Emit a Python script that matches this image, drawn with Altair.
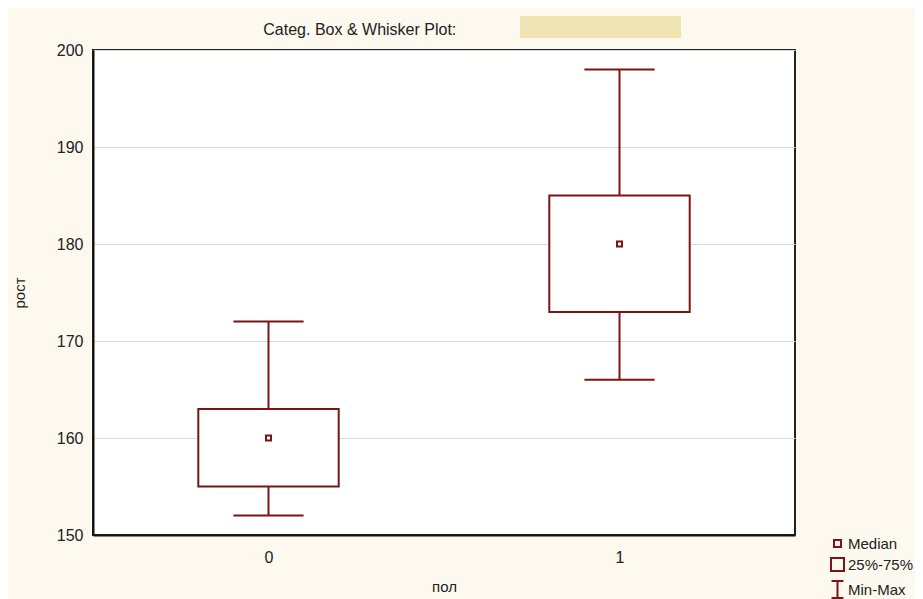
import altair as alt
import pandas as pd

# ---- data ----
categories = [0, 1]
mins = [152, 166]
q1s = [155, 173]
medians = [160, 180]
q3s = [163, 185]
maxs = [172, 198]

legend_items = ["Median", "25%-75%", "Min-Max"]
y_ticks = [150, 160, 170, 180, 190, 200]
x_ticks = [0, 1]

DARK = "#7b1414"
BG = "#fdf9ef"
BOX_HALF = 0.2
CAP_HALF = 0.1
FONT = "Liberation Sans"

df = pd.DataFrame({
    "cat": categories, "min": mins, "q1": q1s, "median": medians,
    "q3": q3s, "max": maxs,
})
df["xl"] = df["cat"] - BOX_HALF
df["xr"] = df["cat"] + BOX_HALF
df["cl"] = df["cat"] - CAP_HALF
df["cr"] = df["cat"] + CAP_HALF

xscale = alt.Scale(domain=[-0.5, 1.5], nice=False, zero=False)
yscale = alt.Scale(domain=[150, 200], nice=False, zero=False)

xaxis = alt.Axis(values=x_ticks, format="d", title="пол", grid=False, ticks=False,
                 labelPadding=14, titlePadding=14)
yaxis = alt.Axis(values=y_ticks, title="рост", grid=True, ticks=False,
                 labelPadding=10, titlePadding=29)

base = alt.Chart(df)

upper = base.mark_rule(color=DARK, strokeWidth=2).encode(
    x=alt.X("cat:Q", scale=xscale, axis=xaxis),
    y=alt.Y("q3:Q", scale=yscale, axis=yaxis),
    y2="max:Q",
)
lower = base.mark_rule(color=DARK, strokeWidth=2).encode(
    x=alt.X("cat:Q", scale=xscale), y=alt.Y("min:Q", scale=yscale), y2="q1:Q",
)
cap_top = base.mark_rule(color=DARK, strokeWidth=2).encode(
    x=alt.X("cl:Q", scale=xscale), x2="cr:Q", y=alt.Y("max:Q", scale=yscale),
)
cap_bot = base.mark_rule(color=DARK, strokeWidth=2).encode(
    x=alt.X("cl:Q", scale=xscale), x2="cr:Q", y=alt.Y("min:Q", scale=yscale),
)
boxes = base.mark_rect(fill="white", stroke=DARK, strokeWidth=2).encode(
    x=alt.X("xl:Q", scale=xscale), x2="xr:Q",
    y=alt.Y("q1:Q", scale=yscale), y2="q3:Q",
)
med = base.mark_point(shape="square", size=25, filled=False, fill="white",
                      color=DARK, strokeWidth=2, opacity=1).encode(
    x=alt.X("cat:Q", scale=xscale), y=alt.Y("median:Q", scale=yscale),
)

# title highlight box (decoration)
title_box = alt.Chart(pd.DataFrame({"d": [0]})).mark_rect(color="#efe3b1").encode(
    x=alt.value(427), x2=alt.value(588), y=alt.value(-34), y2=alt.value(-12),
)

I_PATH = "M-0.7,-1H0.7M0,-1V1M-0.7,1H0.7"
legend_cfg = dict(title=None, orient="none", legendX=735, legendY=486,
                  padding=0, rowPadding=2, labelFontSize=15,
                  labelFont=FONT, labelColor="#222",
                  symbolStrokeWidth=2, symbolStrokeColor=DARK,
                  symbolFillColor="transparent", labelOffset=1)
leg_df = pd.DataFrame({"item": legend_items})
leg = alt.Chart(leg_df).mark_point(clip=True, color=DARK, strokeWidth=2, opacity=1,
                                   filled=False).encode(
    x=alt.value(-500), y=alt.value(-500),
    shape=alt.Shape("item:N", sort=legend_items,
                    scale=alt.Scale(domain=legend_items, range=["square", "square", I_PATH]),
                    legend=alt.Legend(**legend_cfg)),
    size=alt.Size("item:N", sort=legend_items,
                  scale=alt.Scale(domain=legend_items, range=[49, 289, 361]),
                  legend=alt.Legend(**legend_cfg)),
)

chart = alt.layer(title_box, upper, lower, cap_top, cap_bot, boxes, med, leg).properties(
    width=702, height=485,
    title=alt.TitleParams("Categ. Box & Whisker Plot:", anchor="start", dx=251,
                          offset=-22, fontSize=16, font=FONT,
                          fontWeight="normal", color="#222"),
    autosize=alt.AutoSizeParams(type="none"),
    padding={"left": 85, "top": 42, "right": 120, "bottom": 64},
    background=BG,
).configure_view(
    fill="white", stroke="#222", strokeWidth=2,
).configure_axis(
    labelFont=FONT, labelFontSize=16, labelColor="#222",
    titleFont=FONT, titleFontSize=15, titleFontWeight="normal",
    titleColor="#222", domainColor="#111", domainWidth=2,
    gridColor="#d9d9d9", gridWidth=1,
)

chart.save("out.html", embed_options={"renderer": "svg", "actions": False})
